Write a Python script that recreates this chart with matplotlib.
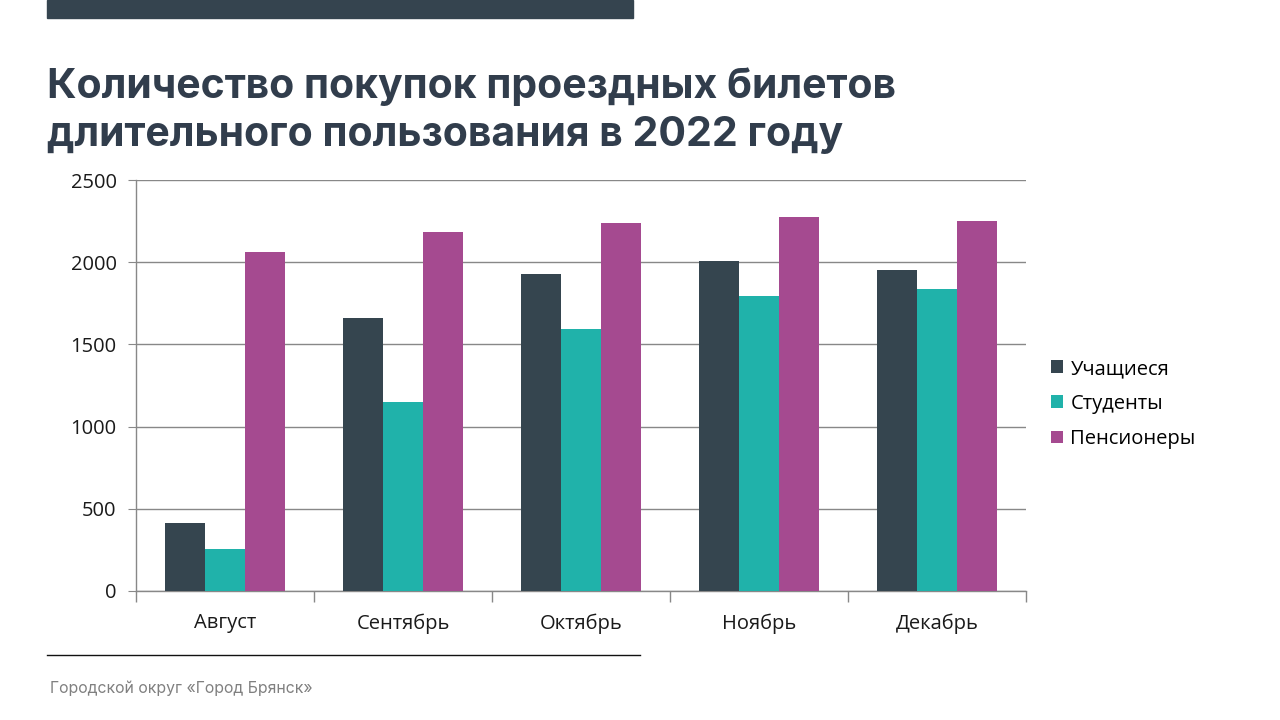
import matplotlib

matplotlib.use("Agg")
import matplotlib.pyplot as plt
import numpy as np
from matplotlib.patches import Rectangle
from matplotlib.lines import Line2D

months = ["Август", "Сентябрь", "Октябрь", "Ноябрь", "Декабрь"]
pupils = [415, 1660, 1930, 2008, 1953]
students = [255, 1150, 1594, 1795, 1838]
pensioners = [2063, 2184, 2239, 2276, 2251]
series_names = ["Учащиеся", "Студенты", "Пенсионеры"]
colors = ["#35454F", "#20B2AA", "#A54A90"]
yticks = [0, 500, 1000, 1500, 2000, 2500]

TITLE = "Количество покупок проездных билетов\nдлительного пользования в 2022 году"
FOOTER = "Городской округ «Город Брянск»"
DARK = "#313D4C"

plt.rcParams["font.family"] = ["Open Sans", "DejaVu Sans"]

fig = plt.figure(figsize=(12.8, 7.2), dpi=100)
ax = fig.add_axes([0.10625, 0.1792, 0.6953, 0.5708])

x = np.arange(len(months))
width = 0.225
for i, (vals, name, col) in enumerate(zip([pupils, students, pensioners], series_names, colors)):
    ax.bar(x + (i - 1) * width, vals, width, color=col, label=name, zorder=3)

ax.set_xlim(-0.5, len(months) - 0.5)
ax.set_ylim(0, 2500)
ax.set_yticks(yticks)
ax.set_yticklabels([str(t) for t in yticks], fontsize=14.5, color="#1a1a1a")
ax.set_xticks(x)
ax.set_xticklabels(months, fontsize=14.5, color="#1a1a1a")
ax.tick_params(axis="x", length=0, pad=16)
ax.set_xticks(np.arange(-0.5, len(months)), minor=True)
ax.tick_params(axis="x", which="minor", length=8, color="#888888", width=1)
ax.tick_params(axis="y", length=6, color="#888888", pad=8)
ax.grid(axis="y", color="#888888", linewidth=1, zorder=0)
for s in ["top", "right"]:
    ax.spines[s].set_visible(False)
for s in ["left", "bottom"]:
    ax.spines[s].set_color("#888888")
    ax.spines[s].set_linewidth(1)

ax.legend(loc="center left", bbox_to_anchor=(1.017, 0.455), frameon=False,
          fontsize=14.5, handlelength=0.6, handleheight=0.6, handletextpad=0.35,
          labelspacing=0.75, borderpad=0)

# decorations: top bar, title, footer rule and caption
fig.patches.append(Rectangle((47 / 1280, 1 - 18 / 720), (633 - 47) / 1280, 18 / 720,
                             transform=fig.transFigure, color="#35444F"))
fig.text(47 / 1280, 1 - 67 / 720, TITLE, fontsize=29.5, fontweight="bold", color=DARK,
         va="top", ha="left", linespacing=1.33, family=["Inter", "DejaVu Sans"])
fig.lines.append(Line2D([47 / 1280, 640 / 1280], [1 - 655 / 720] * 2,
                        transform=fig.transFigure, color="#111111", linewidth=1))
fig.text(50 / 1280, 1 - 688 / 720, FOOTER, fontsize=11.4, color="#808080", va="center",
         ha="left", family=["Inter", "DejaVu Sans"])

fig.savefig("out.png", dpi=100)
